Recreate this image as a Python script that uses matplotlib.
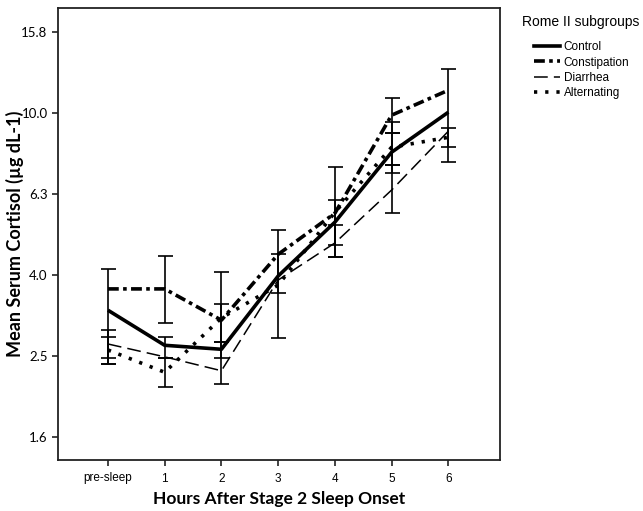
import matplotlib
matplotlib.use("Agg")
import matplotlib.pyplot as plt
import numpy as np
from matplotlib.lines import Line2D

# ---- data ----
x_labels = ["pre-sleep", "1", "2", "3", "4", "5", "6"]
series_names = ["Control", "Constipation", "Diarrhea", "Alternating"]

control = [3.26, 2.67, 2.61, 3.96, 5.38, 8.01, 10.06]
constipation = [3.68, 3.68, 3.08, 4.48, 5.66, 9.89, 11.40]
diarrhea = [2.69, 2.50, 2.31, 3.87, 4.78, 6.46, 9.03]
alternating = [2.60, 2.29, 3.12, 3.76, 5.69, 8.24, 8.72]

# error bar bounds (lower, upper); None where no bar visible
control_lo = [2.48, 2.48, 2.48, 3.59, 4.72, 7.11, 7.57]
control_hi = [4.12, 2.80, 2.72, 4.48, 6.10, 8.93, 12.84]
constipation_lo = [None, 3.03, 2.72, None, None, 8.93, None]
constipation_hi = [None, 4.44, 3.38, None, None, 10.89, None]
diarrhea_lo = [2.40, None, None, None, 4.41, 5.66, None]
diarrhea_hi = [2.91, None, None, None, 5.29, 7.44, None]
alternating_lo = [2.40, 2.11, 2.14, 2.78, 4.41, 7.44, 8.24]
alternating_hi = [2.80, 2.48, 4.05, 5.14, 7.36, 9.50, 9.18]

ytick_values = [1.585, 2.512, 3.981, 6.310, 10.0, 15.849]
ytick_labels = ["1.6", "2.5", "4.0", "6.3", "10.0", "15.8"]

# ---- figure ----
fig = plt.figure(figsize=(6.43, 5.11), dpi=100)
ax = fig.add_axes([58 / 643, 1 - 460 / 511, (500 - 58) / 643, (460 - 8) / 511])

xs = np.arange(len(x_labels))

styles = {
    "Control": dict(color="black", lw=2.6, linestyle="-"),
    "Constipation": dict(color="black", lw=2.6, linestyle=(0, (3.0, 1.2, 1.0, 1.2))),
    "Diarrhea": dict(color="black", lw=1.1, linestyle=(0, (9, 4))),
    "Alternating": dict(color="black", lw=2.6, linestyle=(0, (0.9, 2.2))),
}
data = {
    "Control": control,
    "Constipation": constipation,
    "Diarrhea": diarrhea,
    "Alternating": alternating,
}
bounds = {
    "Control": (control_lo, control_hi),
    "Constipation": (constipation_lo, constipation_hi),
    "Diarrhea": (diarrhea_lo, diarrhea_hi),
    "Alternating": (alternating_lo, alternating_hi),
}

for name in series_names:
    ax.plot(xs, data[name], solid_capstyle="butt", dash_capstyle="butt", **styles[name])

for name in series_names:
    lo, hi = bounds[name]
    for i in range(len(xs)):
        if lo[i] is None or hi[i] is None:
            continue
        a, b = min(lo[i], hi[i]), max(lo[i], hi[i])
        mid = data[name][i]
        ax.errorbar([xs[i]], [mid], yerr=[[max(mid - a, 0)], [max(b - mid, 0)]],
                    fmt="none", ecolor="black", elinewidth=1.2, capsize=5.4,
                    capthick=1.2)

ax.set_yscale("log")
ax.set_ylim(1.39, 18.2)
ax.set_xlim(-0.88, 6.91)
ax.yaxis.set_minor_locator(matplotlib.ticker.NullLocator())
ax.set_yticks(ytick_values)
ax.set_yticklabels(ytick_labels, fontfamily="Lato", fontsize=9.5)
ax.set_xticks(xs)
ax.set_xticklabels(x_labels, fontfamily="Liberation Sans", fontsize=8.5)
ax.tick_params(axis="both", direction="out", length=4, width=1.2, color="#222222")
ax.tick_params(axis="x", pad=5)
for s in ax.spines.values():
    s.set_color("#222222")
    s.set_linewidth(1.3)

ax.set_xlabel("Hours After Stage 2 Sleep Onset", fontfamily="Lato",
              fontweight="bold", fontsize=12.5, labelpad=5)
ax.set_ylabel("Mean Serum Cortisol (\u00b5g dL-1)", fontfamily="Lato",
              fontweight="bold", fontsize=13)
ax.yaxis.set_label_coords(-0.078, 0.5)

fig.text(522 / 643, 1 - 22 / 511, "Rome II subgroups", family="Liberation Sans",
         fontsize=10, ha="left", va="center")
handles = [Line2D([0], [0], **styles[n]) for n in series_names]
leg = fig.legend(handles, series_names, loc="upper left",
                 bbox_to_anchor=(526 / 643, 1 - 33 / 511), frameon=False,
                 handlelength=2.2, handletextpad=0.3,
                 labelspacing=0.28, borderpad=0.2,
                 prop={"family": "Liberation Sans", "size": 8.5})

fig.savefig("out.png", dpi=100)
